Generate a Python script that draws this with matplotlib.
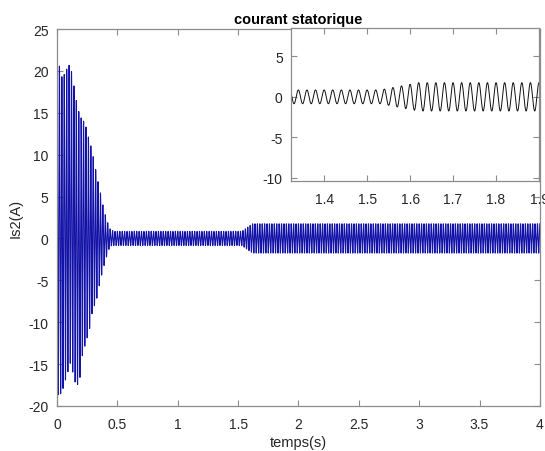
import numpy as np
import matplotlib
matplotlib.use("Agg")
import matplotlib.pyplot as plt

plt.rcParams['font.family'] = ['Liberation Sans', 'DejaVu Sans']
plt.rcParams['axes.unicode_minus'] = False

# ---------------- DATA ----------------
f_grid = 50.0          # Hz, supply frequency of the stator current
t_end = 4.0

# upper envelope of the current (positive peaks), A
pos_t = [0.0, 0.011, 0.031, 0.052, 0.089, 0.110, 0.147, 0.171, 0.210, 0.230,
         0.250, 0.276, 0.304, 0.329, 0.359, 0.387, 0.414, 0.441, 0.47,
         1.53, 1.62, 4.0]
pos_amp = [21.0, 21.6, 19.3, 19.3, 20.5, 20.8, 17.6, 15.5, 14.0, 14.0,
           12.6, 11.3, 9.5, 7.5, 5.5, 3.5, 2.1, 1.1, 0.85,
           0.85, 1.75, 1.75]

# lower envelope of the current (negative peaks), A
neg_t = [0.0, 0.019, 0.044, 0.080, 0.116, 0.141, 0.182, 0.210, 0.238, 0.265,
         0.292, 0.329, 0.356, 0.383, 0.412, 0.439, 0.47,
         1.53, 1.62, 4.0]
neg_amp = [18.5, 18.8, 18.2, 16.4, 14.6, 17.0, 17.6, 14.0, 12.4, 11.2,
           8.8, 7.2, 5.2, 3.6, 2.1, 0.9, 0.85,
           0.85, 1.75, 1.75]

main_xticks = [0, 0.5, 1, 1.5, 2, 2.5, 3, 3.5, 4]
main_yticks = [-20, -15, -10, -5, 0, 5, 10, 15, 20, 25]
zoom_xticks = [1.4, 1.5, 1.6, 1.7, 1.8, 1.9]
zoom_yticks = [-10, -5, 0, 5]

# ---------------- SIGNAL ----------------
t = np.linspace(0, t_end, 80001)
carrier = np.sin(2 * np.pi * f_grid * t + 0.5 * np.pi)
up = np.interp(t, pos_t, pos_amp)
low = np.interp(t, neg_t, neg_amp)
i_s2 = np.where(carrier >= 0, up * carrier, low * carrier)

# ---------------- PLOT ----------------
axis_col = '#8c8c8c'
txt_col = '#262626'


def matlab_style(ax):
    for s in ax.spines.values():
        s.set_color(axis_col)
        s.set_linewidth(0.9)
    ax.tick_params(direction='in', top=True, right=True, length=4,
                   color=axis_col, labelcolor=txt_col, labelsize=10, width=0.8)


fig = plt.figure(figsize=(5.45, 4.52), dpi=100)
ax = fig.add_axes([0.1046, 0.0996, 0.886, 0.834])
ax.plot(t, i_s2, color='#1212a8', lw=0.8)
ax.set_xlim(0, 4)
ax.set_ylim(-20, 25)
ax.set_xticks(main_xticks)
ax.set_xticklabels([f"{v:g}" for v in main_xticks])
ax.set_yticks(main_yticks)
matlab_style(ax)
ax.tick_params(axis='x', pad=8)
ax.tick_params(axis='y', pad=6)
ax.set_xlabel("temps(s)", fontsize=10.5, color=txt_col, labelpad=3)
ax.set_ylabel("Is2(A)", fontsize=10.5, color=txt_col, labelpad=4)
ax.set_title("courant statorique", fontsize=10.5, fontweight='bold', pad=4)

# zoom inset
axi = fig.add_axes([0.534, 0.597, 0.455, 0.339])
axi.plot(t, i_s2, color='#111111', lw=0.7)
axi.set_xlim(1.323, 1.9)
axi.set_ylim(-10.4, 8.5)
axi.set_xticks(zoom_xticks)
axi.set_yticks(zoom_yticks)
matlab_style(axi)
axi.tick_params(axis='x', pad=8)
axi.tick_params(axis='y', pad=6)

plt.savefig("out.png", dpi=100)
